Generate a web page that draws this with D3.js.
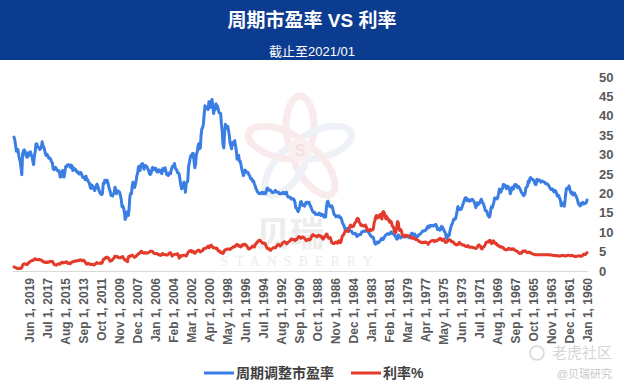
<!DOCTYPE html>
<html>
<head>
<meta charset="utf-8">
<script src="https://cdn.jsdelivr.net/npm/d3@7"></script>
<style>
  body { margin: 0; background: #fff; }
  svg { display: block; font-family: "Liberation Sans", Arial, "Noto Sans CJK SC", sans-serif; }
  .x-axis text { font-size: 12px; font-weight: bold; fill: #595959; }
  .y-axis text { font-size: 13px; font-weight: bold; fill: #595959; }
</style>
</head>
<body>
<svg id="chart" width="624" height="387"></svg>
<script>
// monthly, Jan 1960 .. Jan 2021 (one row per year)
var capeValues = [
  18.3, 17.6, 17.4, 17.4, 17.3, 17.7, 17.3, 17.5, 16.9, 16.8, 17.3, 17.3,
  18.2, 18.8, 19.3, 19.7, 20.1, 19.8, 19.6, 20.3, 20.0, 20.3, 21.2, 21.9,
  21.2, 21.3, 21.3, 20.3, 18.3, 16.7, 17.1, 17.5, 17.1, 16.8, 18.3, 18.7,
  19.4, 19.6, 19.3, 20.1, 20.6, 20.8, 20.4, 20.6, 21.1, 21.2, 21.0, 21.3,
  21.7, 22.0, 22.3, 22.5, 22.4, 22.5, 22.9, 22.9, 23.0, 23.2, 23.2, 22.9,
  23.3, 23.5, 23.3, 23.5, 23.6, 22.3, 22.3, 22.8, 23.3, 23.6, 23.6, 23.7,
  24.1, 23.8, 22.8, 23.2, 21.9, 21.6, 21.5, 20.1, 19.6, 19.4, 20.0, 20.0,
  20.4, 20.9, 21.3, 21.7, 21.8, 21.5, 22.1, 22.3, 22.3, 21.9, 21.1, 21.6,
  21.5, 20.5, 19.9, 21.0, 21.5, 21.8, 21.9, 21.2, 21.7, 22.1, 22.3, 22.3,
  21.2, 21.1, 20.3, 20.7, 21.1, 19.9, 18.9, 18.6, 18.7, 18.8, 18.8, 17.7,
  17.0, 16.3, 16.6, 15.7, 14.2, 13.9, 14.2, 14.6, 15.4, 15.6, 15.6, 16.5,
  17.1, 17.6, 17.9, 18.5, 18.1, 17.5, 17.6, 17.1, 17.6, 17.1, 16.3, 17.1,
  17.7, 18.1, 18.4, 18.5, 18.2, 18.2, 18.0, 18.4, 18.2, 18.1, 18.8, 18.9,
  18.7, 18.0, 17.5, 16.9, 16.2, 15.9, 16.1, 15.8, 15.9, 16.6, 15.4, 14.3,
  13.5, 13.3, 13.4, 12.9, 12.2, 11.9, 11.2, 10.4, 9.2, 9.0, 9.3, 8.3,
  8.9, 9.8, 10.2, 10.5, 11.1, 11.4, 11.5, 10.7, 10.5, 10.7, 11.0, 10.7,
  11.4, 12.0, 11.9, 11.8, 11.6, 11.6, 11.8, 11.6, 11.8, 11.4, 11.2, 11.6,
  11.3, 10.8, 10.6, 10.4, 10.4, 10.3, 10.3, 10.0, 9.8, 9.5, 9.4, 9.3,
  9.0, 8.8, 8.7, 9.1, 9.5, 9.4, 9.2, 9.7, 9.7, 9.3, 8.6, 8.6,
  8.8, 8.8, 8.8, 9.0, 8.8, 8.9, 8.8, 9.1, 9.2, 8.8, 8.5, 8.8,
  8.9, 9.3, 8.3, 8.2, 8.7, 9.0, 9.3, 9.5, 9.6, 9.6, 10.1, 9.9,
  9.7, 9.4, 9.6, 9.6, 9.4, 9.3, 9.0, 8.8, 8.2, 8.1, 8.4, 8.3,
  7.8, 7.6, 7.3, 7.5, 7.5, 7.1, 6.9, 7.1, 7.9, 8.6, 8.8, 8.8,
  9.0, 9.3, 9.6, 10.0, 10.4, 10.6, 10.5, 10.2, 10.3, 10.3, 10.2, 10.1,
  10.0, 9.4, 9.4, 9.4, 9.2, 9.1, 8.9, 9.6, 9.7, 9.6, 9.6, 9.6,
  10.0, 10.3, 10.3, 10.3, 10.6, 10.9, 11.0, 10.8, 10.4, 10.7, 11.4, 11.9,
  12.2, 12.8, 13.6, 13.9, 13.8, 14.2, 14.0, 14.2, 14.1, 14.0, 14.5, 14.5,
  15.3, 16.3, 16.8, 16.5, 16.5, 16.8, 17.4, 18.0, 17.7, 16.1, 13.9, 13.9,
  13.9, 14.4, 14.6, 14.5, 14.3, 14.8, 14.9, 14.5, 14.5, 14.7, 14.6, 14.6,
  15.1, 15.0, 15.2, 15.6, 16.1, 16.7, 17.0, 17.7, 17.6, 17.7, 17.4, 17.7,
  17.1, 16.7, 17.0, 16.9, 17.3, 17.9, 17.8, 16.6, 15.8, 15.3, 15.7, 16.2,
  16.3, 17.6, 18.3, 18.6, 18.6, 18.5, 18.6, 19.0, 19.0, 19.1, 19.1, 19.6,
  20.3, 20.2, 19.9, 20.0, 20.3, 20.0, 20.1, 19.9, 19.9, 19.9, 20.3, 20.3,
  20.3, 20.5, 20.8, 20.4, 20.3, 20.3, 20.2, 20.5, 20.7, 20.9, 20.8, 21.1,
  21.4, 21.2, 20.3, 19.9, 20.1, 20.2, 19.9, 20.3, 20.2, 20.0, 19.9, 19.9,
  20.2, 20.4, 20.9, 21.3, 22.0, 22.5, 23.2, 23.1, 23.7, 23.6, 23.9, 24.6,
  24.8, 25.4, 25.4, 25.5, 25.9, 26.0, 25.0, 24.6, 25.4, 26.2, 27.3, 28.3,
  28.3, 29.8, 29.6, 28.8, 31.0, 32.3, 33.6, 33.1, 32.6, 33.1, 31.5, 32.3,
  33.0, 34.9, 36.3, 37.3, 37.0, 36.9, 37.8, 35.5, 31.7, 32.6, 35.9, 37.8,
  40.6, 40.6, 40.8, 41.7, 42.5, 41.9, 43.1, 41.6, 41.7, 40.6, 42.3, 44.2,
  43.8, 42.2, 42.6, 43.6, 41.6, 41.9, 42.2, 42.1, 42.6, 40.4, 38.1, 36.9,
  36.7, 35.0, 31.7, 31.5, 32.8, 32.0, 30.6, 30.1, 27.5, 26.6, 28.3, 30.3,
  30.3, 29.5, 29.8, 29.0, 27.9, 26.9, 23.3, 22.8, 22.6, 20.3, 22.2, 22.9,
  21.9, 21.3, 21.2, 22.3, 23.6, 24.9, 25.3, 25.3, 26.0, 26.2, 26.6, 27.7,
  26.9, 27.1, 26.8, 26.1, 25.1, 25.4, 25.0, 24.6, 24.8, 24.9, 25.8, 26.6,
  25.9, 26.1, 26.4, 25.1, 25.3, 25.8, 26.0, 26.1, 25.5, 25.5, 25.8, 26.5,
  26.5, 26.1, 26.1, 26.7, 26.1, 25.1, 24.9, 25.1, 25.9, 26.3, 26.8, 27.0,
  27.2, 27.2, 26.2, 27.3, 27.7, 27.5, 27.3, 25.9, 26.1, 26.9, 25.3, 24.6,
  23.2, 22.2, 21.5, 22.1, 22.9, 21.9, 19.9, 20.0, 19.1, 15.9, 14.3, 15.2,
  15.2, 13.7, 13.3, 15.2, 16.2, 16.8, 16.6, 18.4, 19.4, 20.3, 20.5, 20.5,
  20.7, 19.9, 20.7, 21.6, 20.1, 19.9, 19.3, 19.6, 19.5, 20.4, 21.0, 21.8,
  22.7, 23.4, 22.9, 23.3, 23.4, 22.5, 22.6, 20.0, 19.7, 19.8, 20.1, 20.5,
  21.2, 21.9, 22.4, 22.0, 21.2, 20.7, 21.1, 21.6, 22.0, 22.2, 21.3, 21.9,
  22.8, 23.0, 23.6, 23.6, 24.4, 23.5, 24.2, 24.1, 24.1, 24.5, 25.2, 25.4,
  25.1, 25.0, 25.5, 25.4, 25.6, 26.1, 26.3, 26.1, 26.5, 25.9, 27.1, 27.3,
  26.7, 27.2, 27.4, 27.3, 27.3, 26.8, 26.9, 25.6, 24.2, 24.6, 25.9, 25.5,
  24.2, 24.2, 25.5, 25.9, 25.8, 25.9, 26.4, 26.7, 26.4, 26.1, 26.4, 27.9,
  28.1, 28.7, 29.1, 29.0, 29.2, 29.8, 30.1, 29.8, 30.3, 31.3, 31.9, 32.4,
  33.3, 32.1, 31.5, 31.3, 31.6, 32.0, 32.2, 32.8, 32.7, 30.6, 29.6, 27.4,
  28.4, 29.6, 30.0, 30.7, 30.2, 29.7, 30.5, 29.3, 29.5, 29.9, 30.9, 31.2,
  30.9, 30.3, 24.8, 26.5, 28.2, 28.9, 29.9, 31.3, 31.0, 30.9, 32.5, 33.8,
  34.5
];

var rateValues = [
  4.72, 4.49, 4.25, 4.28, 4.35, 4.15, 3.90, 3.80, 3.80, 3.89, 3.93, 3.84,
  3.84, 3.78, 3.74, 3.78, 3.71, 3.88, 3.92, 4.04, 3.98, 3.92, 3.94, 4.06,
  4.08, 4.04, 3.93, 3.84, 3.87, 3.91, 4.01, 3.98, 3.98, 3.93, 3.92, 3.86,
  3.83, 3.92, 3.93, 3.97, 3.93, 3.99, 4.02, 4.00, 4.08, 4.11, 4.12, 4.13,
  4.17, 4.15, 4.22, 4.23, 4.20, 4.17, 4.19, 4.19, 4.20, 4.19, 4.15, 4.18,
  4.19, 4.21, 4.21, 4.20, 4.21, 4.21, 4.20, 4.25, 4.29, 4.35, 4.45, 4.62,
  4.61, 4.83, 4.87, 4.75, 4.78, 4.81, 5.02, 5.22, 5.18, 5.01, 5.16, 4.84,
  4.58, 4.63, 4.54, 4.59, 4.85, 5.02, 5.16, 5.28, 5.30, 5.48, 5.75, 5.70,
  5.53, 5.56, 5.74, 5.64, 5.87, 5.72, 5.50, 5.42, 5.46, 5.58, 5.70, 6.03,
  6.04, 6.19, 6.30, 6.17, 6.32, 6.57, 6.72, 6.69, 7.16, 7.10, 7.14, 7.65,
  7.79, 7.24, 7.07, 7.39, 7.91, 7.84, 7.46, 7.53, 7.39, 7.33, 6.84, 6.39,
  6.24, 6.11, 5.70, 5.83, 6.39, 6.52, 6.73, 6.58, 6.14, 5.93, 5.81, 5.93,
  5.95, 6.08, 6.07, 6.19, 6.13, 6.11, 6.11, 6.21, 6.55, 6.48, 6.28, 6.36,
  6.46, 6.64, 6.71, 6.67, 6.85, 6.90, 7.13, 7.40, 7.09, 6.79, 6.73, 6.74,
  6.99, 6.96, 7.21, 7.51, 7.58, 7.54, 7.81, 8.04, 8.04, 7.90, 7.68, 7.43,
  7.50, 7.39, 7.73, 8.23, 8.06, 7.86, 8.06, 8.40, 8.43, 8.14, 8.05, 8.00,
  7.74, 7.79, 7.73, 7.56, 7.90, 7.86, 7.83, 7.77, 7.59, 7.41, 7.29, 6.87,
  7.21, 7.39, 7.46, 7.37, 7.46, 7.28, 7.33, 7.40, 7.34, 7.52, 7.58, 7.69,
  7.96, 8.03, 8.04, 8.15, 8.35, 8.46, 8.64, 8.41, 8.42, 8.64, 8.81, 9.01,
  9.10, 9.10, 9.12, 9.18, 9.25, 8.91, 8.95, 9.03, 9.33, 10.30, 10.65, 10.39,
  10.80, 12.41, 12.75, 11.47, 10.18, 9.78, 10.25, 11.10, 11.51, 11.75, 12.68, 12.84,
  12.57, 13.19, 13.12, 13.68, 14.10, 13.47, 14.28, 14.94, 15.32, 15.15, 13.39, 13.72,
  14.59, 14.43, 13.86, 13.87, 13.62, 14.30, 13.95, 13.06, 12.34, 10.91, 10.55, 10.54,
  10.46, 10.72, 10.51, 10.40, 10.38, 10.85, 11.38, 11.85, 11.65, 11.54, 11.69, 11.83,
  11.67, 11.84, 12.32, 12.63, 13.41, 13.56, 13.36, 12.72, 12.52, 12.16, 11.57, 11.50,
  11.38, 11.51, 11.86, 11.43, 10.85, 10.16, 10.31, 10.33, 10.37, 10.24, 9.78, 9.26,
  9.19, 8.70, 7.78, 7.30, 7.71, 7.80, 7.30, 7.17, 7.45, 7.43, 7.25, 7.11,
  7.08, 7.25, 7.25, 8.02, 8.61, 8.40, 8.45, 8.76, 9.42, 9.52, 8.86, 8.99,
  8.67, 8.21, 8.37, 8.72, 9.09, 8.92, 9.06, 9.26, 8.98, 8.80, 8.96, 9.11,
  9.09, 9.17, 9.36, 9.18, 8.86, 8.28, 8.02, 8.11, 8.19, 8.01, 7.87, 7.84,
  8.21, 8.47, 8.59, 8.79, 8.76, 8.48, 8.47, 8.75, 8.89, 8.72, 8.39, 8.08,
  8.09, 7.85, 8.11, 8.04, 8.07, 8.28, 8.27, 7.90, 7.65, 7.53, 7.42, 7.09,
  7.03, 7.34, 7.54, 7.48, 7.39, 7.26, 6.84, 6.59, 6.42, 6.59, 6.87, 6.77,
  6.60, 6.26, 5.98, 5.97, 6.04, 5.96, 5.81, 5.68, 5.36, 5.33, 5.72, 5.77,
  5.75, 5.97, 6.48, 6.97, 7.18, 7.10, 7.30, 7.24, 7.46, 7.74, 7.96, 7.81,
  7.78, 7.47, 7.20, 7.06, 6.63, 6.17, 6.28, 6.49, 6.20, 6.04, 5.93, 5.71,
  5.65, 5.81, 6.27, 6.51, 6.74, 6.91, 6.87, 6.64, 6.83, 6.53, 6.20, 6.30,
  6.58, 6.42, 6.69, 6.89, 6.71, 6.49, 6.22, 6.30, 6.21, 6.03, 5.88, 5.81,
  5.54, 5.57, 5.65, 5.64, 5.65, 5.50, 5.46, 5.34, 4.81, 4.53, 4.83, 4.65,
  4.72, 5.00, 5.23, 5.18, 5.54, 5.90, 5.79, 5.94, 5.92, 6.11, 6.03, 6.28,
  6.66, 6.52, 6.26, 5.99, 6.44, 6.10, 6.05, 5.83, 5.80, 5.74, 5.72, 5.24,
  5.16, 5.10, 4.89, 5.14, 5.39, 5.28, 5.24, 4.97, 4.73, 4.57, 4.65, 5.09,
  5.04, 4.91, 5.28, 5.21, 5.16, 4.93, 4.65, 4.26, 3.87, 3.94, 4.05, 4.03,
  4.05, 3.90, 3.81, 3.96, 3.57, 3.33, 3.98, 4.45, 4.27, 4.29, 4.30, 4.27,
  4.15, 4.08, 3.83, 4.35, 4.72, 4.73, 4.50, 4.28, 4.13, 4.10, 4.19, 4.23,
  4.22, 4.17, 4.50, 4.34, 4.14, 4.00, 4.18, 4.26, 4.20, 4.46, 4.54, 4.47,
  4.42, 4.57, 4.72, 4.99, 5.11, 5.11, 5.09, 4.88, 4.72, 4.73, 4.60, 4.56,
  4.76, 4.72, 4.56, 4.69, 4.75, 5.10, 5.00, 4.67, 4.52, 4.53, 4.15, 4.10,
  3.74, 3.74, 3.51, 3.68, 3.88, 4.10, 4.01, 3.89, 3.69, 3.81, 3.53, 2.42,
  2.52, 2.87, 2.82, 2.93, 3.29, 3.72, 3.56, 3.59, 3.40, 3.39, 3.40, 3.59,
  3.73, 3.69, 3.73, 3.85, 3.42, 3.20, 3.01, 2.70, 2.65, 2.54, 2.76, 3.29,
  3.39, 3.58, 3.41, 3.46, 3.17, 3.00, 3.00, 2.30, 1.98, 2.15, 2.01, 1.98,
  1.97, 1.97, 2.17, 2.05, 1.80, 1.62, 1.53, 1.68, 1.72, 1.75, 1.65, 1.72,
  1.91, 1.98, 1.96, 1.76, 1.93, 2.30, 2.58, 2.74, 2.81, 2.62, 2.72, 2.90,
  2.86, 2.71, 2.72, 2.71, 2.56, 2.60, 2.54, 2.42, 2.53, 2.30, 2.33, 2.21,
  1.88, 1.98, 2.04, 1.94, 2.20, 2.36, 2.32, 2.17, 2.17, 2.07, 2.26, 2.24,
  2.09, 1.78, 1.89, 1.81, 1.81, 1.64, 1.50, 1.56, 1.63, 1.76, 2.14, 2.49,
  2.43, 2.42, 2.48, 2.30, 2.30, 2.19, 2.32, 2.21, 2.20, 2.36, 2.35, 2.40,
  2.58, 2.86, 2.84, 2.87, 2.98, 2.91, 2.89, 2.89, 3.00, 3.15, 3.12, 2.83,
  2.71, 2.68, 2.57, 2.53, 2.40, 2.07, 2.06, 1.63, 1.70, 1.71, 1.81, 1.86,
  1.76, 1.50, 0.87, 0.66, 0.67, 0.73, 0.62, 0.65, 0.68, 0.79, 0.87, 0.93,
  1.08
];

var tickLabels = [
  'Jun 1, 2019', 'Jul 1, 2017', 'Aug 1, 2015', 'Sep 1, 2013', 'Oct 1, 2011',
  'Nov 1, 2009', 'Dec 1, 2007', 'Jan 1, 2006', 'Feb 1, 2004', 'Mar 1, 2002',
  'Apr 1, 2000', 'May 1, 1998', 'Jun 1, 1996', 'Jul 1, 1994', 'Aug 1, 1992',
  'Sep 1, 1990', 'Oct 1, 1988', 'Nov 1, 1986', 'Dec 1, 1984', 'Jan 1, 1983',
  'Feb 1, 1981', 'Mar 1, 1979', 'Apr 1, 1977', 'May 1, 1975', 'Jun 1, 1973',
  'Jul 1, 1971', 'Aug 1, 1969', 'Sep 1, 1967', 'Oct 1, 1965', 'Nov 1, 1963',
  'Dec 1, 1961', 'Jan 1, 1960'
];

var yTicks = [0, 5, 10, 15, 20, 25, 30, 35, 40, 45, 50];

var seriesNames = ['周期调整市盈率', '利率%'];
var seriesColors = ['#3b7ee3', '#e33a2c'];

var svg = d3.select('#chart');
var W = 624, H = 387;

// header band
svg.append('rect').attr('x', 0).attr('y', 0).attr('width', W).attr('height', 60)
    .attr('fill', '#0c3c90');
svg.append('text').attr('x', W / 2).attr('y', 27)
    .attr('text-anchor', 'middle').attr('fill', '#fff')
    .style('font-size', '19px').style('font-weight', 'bold')
    .text('周期市盈率 VS 利率');
svg.append('text').attr('x', W / 2).attr('y', 56)
    .attr('text-anchor', 'middle').attr('fill', '#fff')
    .style('font-size', '13px')
    .text('截止至2021/01');

// faint watermark
var wm = svg.append('g').attr('transform', 'translate(300,150)').attr('opacity', 0.5);
[0, 72, 144, 216, 288].forEach(function(a, i) {
    wm.append('ellipse')
        .attr('cx', 0).attr('cy', -24).attr('rx', 14).attr('ry', 30)
        .attr('transform', 'rotate(' + a + ') ')
        .attr('fill', 'none')
        .attr('stroke', i % 2 ? '#dfe5ef' : '#f5d9d9')
        .attr('stroke-width', 7);
});
wm.append('path')
    .attr('d', d3.range(6).map(function(k) {
        var t = Math.PI / 3 * k + Math.PI / 6;
        return (k ? 'L' : 'M') + (13 * Math.cos(t)) + ',' + (13 * Math.sin(t));
    }).join('') + 'Z')
    .attr('fill', '#f6e3e3');
wm.append('text').attr('y', 6).attr('text-anchor', 'middle')
    .attr('fill', '#e6c6c6').style('font-size', '16px').style('font-weight', 'bold').text('S');
svg.append('text').attr('x', 290).attr('y', 246).attr('text-anchor', 'middle')
    .attr('fill', '#ededed').style('font-size', '34px').style('font-weight', 'bold')
    .text('贝瑞');
svg.append('text').attr('x', 300).attr('y', 266).attr('text-anchor', 'middle')
    .attr('fill', '#ececec').style('font-size', '14px')
    .style('font-family', '"Liberation Serif", serif').style('letter-spacing', '7px')
    .text('STANSBERRY');

// scales
var months = d3.timeMonth.range(new Date(1960, 0, 1), new Date(2021, 1, 1));
var keyFmt = d3.timeFormat('%Y-%m');
var keys = months.map(keyFmt);

var x = d3.scalePoint()
    .domain(keys.slice().reverse())
    .range([14, 587]);

var y = d3.scaleLinear()
    .domain([0, 50])
    .range([271, 77]);

// x axis
var parseLabel = d3.timeParse('%b %-d, %Y');
var labelByKey = {};
tickLabels.forEach(function(t) { labelByKey[keyFmt(parseLabel(t))] = t; });

var xAxis = svg.append('g')
    .attr('class', 'x-axis')
    .attr('transform', 'translate(0,271)')
    .call(d3.axisBottom(x)
        .tickValues(Object.keys(labelByKey))
        .tickSize(0)
        .tickFormat(function(k) { return labelByKey[k]; }));
xAxis.select('.domain').attr('stroke', '#d9d9d9').attr('stroke-width', 1)
    .attr('d', 'M13,0.5H588');
xAxis.selectAll('text')
    .attr('transform', 'rotate(-90)')
    .attr('x', -7).attr('y', 0).attr('dy', '0.35em')
    .attr('text-anchor', 'end');

// y axis (right)
var yAxis = svg.append('g')
    .attr('class', 'y-axis')
    .attr('transform', 'translate(596,0)')
    .call(d3.axisRight(y).tickValues(yTicks).tickSize(0).tickPadding(3));
yAxis.select('.domain').remove();

// lines
var seriesData = [capeValues, rateValues];
var line = d3.line()
    .x(function(d, i) { return x(keys[i]); })
    .y(function(d) { return y(d); });

seriesData.forEach(function(vals, s) {
    svg.append('path')
        .datum(vals)
        .attr('fill', 'none')
        .attr('stroke', seriesColors[s])
        .attr('stroke-width', 3)
        .attr('stroke-linejoin', 'round')
        .attr('stroke-linecap', 'round')
        .attr('d', line);
});

// legend
var legendX = [204, 351];
seriesNames.forEach(function(name, s) {
    var g = svg.append('g').attr('transform', 'translate(' + legendX[s] + ',373)');
    g.append('line').attr('x1', 0).attr('x2', 30).attr('y1', 0).attr('y2', 0)
        .attr('stroke', seriesColors[s]).attr('stroke-width', 3);
    g.append('text').attr('x', 32).attr('y', 5)
        .attr('fill', '#404040')
        .style('font-size', '14px').style('font-weight', 'bold')
        .text(name);
});

// corner watermark
svg.append('text').attr('x', 612).attr('y', 358).attr('text-anchor', 'end')
    .attr('fill', '#d6d6d6').style('font-size', '15px').text('老虎社区');
svg.append('circle').attr('cx', 537).attr('cy', 353).attr('r', 7)
    .attr('fill', 'none').attr('stroke', '#d6d6d6').attr('stroke-width', 1.5);
svg.append('text').attr('x', 612).attr('y', 378).attr('text-anchor', 'end')
    .attr('fill', '#c9c9c9').style('font-size', '11px').text('@贝瑞研究');
</script>
</body>
</html>
